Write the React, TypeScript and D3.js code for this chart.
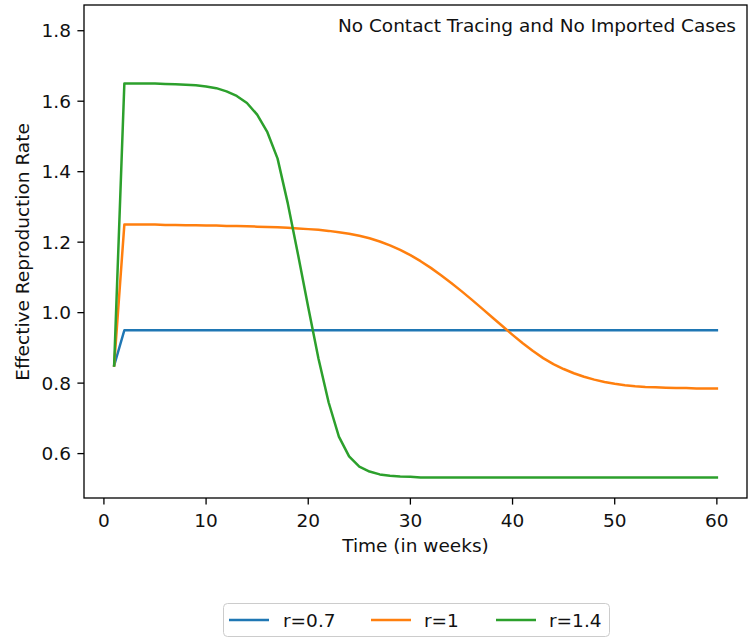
import * as d3 from "d3";

// weeks 1..60
const weeks = d3.range(1, 61);

const rLow = [0.85, ...Array(59).fill(0.95)];

const rMid = [
  0.85, 1.25, 1.25, 1.25, 1.25, 1.249, 1.249, 1.248, 1.248, 1.247,
  1.247, 1.246, 1.246, 1.245, 1.244, 1.243, 1.242, 1.241, 1.239, 1.237,
  1.235, 1.232, 1.228, 1.224, 1.218, 1.211, 1.202, 1.191, 1.178, 1.163,
  1.146, 1.127, 1.106, 1.084, 1.061, 1.037, 1.012, 0.987, 0.962, 0.937,
  0.913, 0.891, 0.871, 0.854, 0.84, 0.828, 0.818, 0.81, 0.803, 0.798,
  0.794, 0.791, 0.789, 0.788, 0.787, 0.786, 0.786, 0.785, 0.785, 0.785,
];

const rHigh = [
  0.85, 1.65, 1.65, 1.65, 1.65, 1.649, 1.648, 1.647, 1.645, 1.642,
  1.637, 1.628, 1.615, 1.595, 1.562, 1.512, 1.437, 1.31, 1.165, 1.015,
  0.87, 0.745, 0.648, 0.592, 0.563, 0.549, 0.541, 0.537, 0.535, 0.534,
  ...Array(30).fill(0.532),
];

const seriesNames = ["r=0.7", "r=1", "r=1.4"];
const seriesColors = ["#1f77b4", "#ff7f0e", "#2ca02c"];
const seriesValues = [rLow, rMid, rHigh];

const xTicks = [0, 10, 20, 30, 40, 50, 60];
const yTicks = [0.6, 0.8, 1.0, 1.2, 1.4, 1.6, 1.8];

const W = 752;
const H = 639;
const left = 84;
const right = 747;
const top = 5;
const bottom = 498;
const font = "DejaVu Sans, sans-serif";
const fs = 18.5;
const ink = "#111";

export default function App() {
  const x = d3.scaleLinear().domain([-1.95, 62.95]).range([left, right]);
  const y = d3.scaleLinear().domain([0.474, 1.873]).range([bottom, top]);

  const line = d3
    .line<number>()
    .x((_, i) => x(weeks[i]))
    .y((d) => y(d));

  const legendItems = [
    { lx: 229, tx: 283 },
    { lx: 371, tx: 424 },
    { lx: 496, tx: 549 },
  ];

  return (
    <svg
      width={W}
      height={H}
      style={{ position: "absolute", left: 0, top: 0, background: "#fff" }}
      fontFamily={font}
    >
      <rect x={0} y={0} width={W} height={H} fill="#fff" />
      <g>
        {seriesValues.map((vals, k) => (
          <path
            key={k}
            d={line(vals) ?? ""}
            fill="none"
            stroke={seriesColors[k]}
            strokeWidth={2.5}
            strokeLinejoin="round"
            strokeLinecap="square"
          />
        ))}
      </g>

      <rect
        x={left}
        y={top}
        width={right - left}
        height={bottom - top}
        fill="none"
        stroke="#000"
        strokeWidth={1.3}
      />

      {xTicks.map((t) => (
        <g key={t} transform={`translate(${x(t)},${bottom})`}>
          <line y1={0} y2={6.6} stroke="#000" strokeWidth={1.3} />
          <text y={28.5} textAnchor="middle" fontSize={fs} fill={ink}>
            {t}
          </text>
        </g>
      ))}

      {yTicks.map((t) => (
        <g key={t} transform={`translate(${left},${y(t)})`}>
          <line x1={0} x2={-6.6} stroke="#000" strokeWidth={1.3} />
          <text x={-13} dy="0.36em" textAnchor="end" fontSize={fs} fill={ink}>
            {t.toFixed(1)}
          </text>
        </g>
      ))}

      <text x={(left + right) / 2} y={552} textAnchor="middle" fontSize={fs} fill={ink}>
        Time (in weeks)
      </text>
      <text
        transform={`translate(29,${252}) rotate(-90)`}
        textAnchor="middle"
        fontSize={fs}
        fill={ink}
      >
        Effective Reproduction Rate
      </text>

      <text x={736} y={32} textAnchor="end" fontSize={fs} fill={ink}>
        No Contact Tracing and No Imported Cases
      </text>

      <rect
        x={223.5}
        y={603.5}
        width={386}
        height={33}
        rx={4}
        fill="#fff"
        fillOpacity={0.8}
        stroke="#ccc"
      />
      {seriesNames.map((name, k) => (
        <g key={name}>
          <line
            x1={legendItems[k].lx}
            x2={legendItems[k].lx + 40}
            y1={620}
            y2={620}
            stroke={seriesColors[k]}
            strokeWidth={2.5}
          />
          <text x={legendItems[k].tx} y={626.5} fontSize={fs} fill={ink}>
            {name}
          </text>
        </g>
      ))}
    </svg>
  );
}
